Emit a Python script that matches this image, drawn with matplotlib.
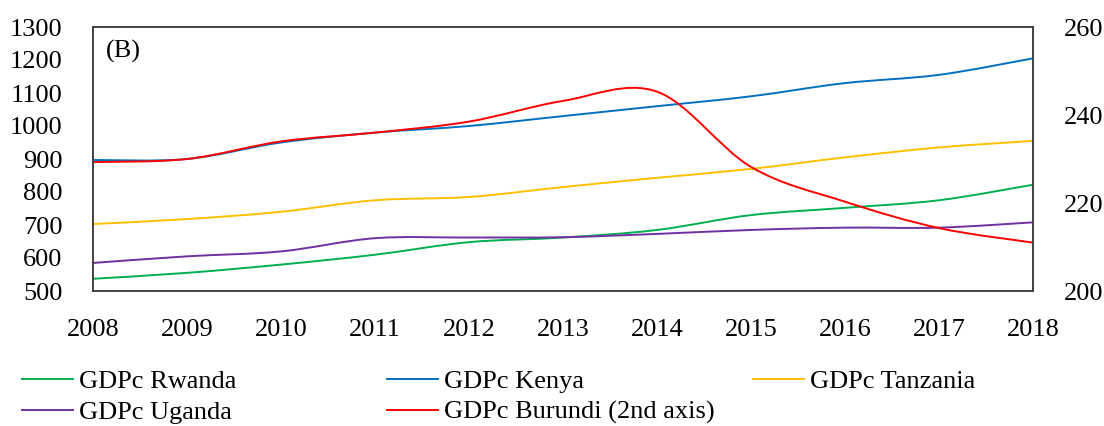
import numpy as np
import matplotlib
matplotlib.use("Agg")
import matplotlib.pyplot as plt
from matplotlib.path import Path
from matplotlib.patches import PathPatch
from matplotlib.lines import Line2D

plt.rcParams['font.family'] = ['Liberation Serif', 'DejaVu Serif']

# --- datos ---
years = [2008, 2009, 2010, 2011, 2012, 2013, 2014, 2015, 2016, 2017, 2018]
rwanda = [537, 555, 580, 610, 648, 662, 685, 730, 752, 775, 822]
kenya = [897, 900, 950, 980, 1000, 1030, 1060, 1090, 1130, 1155, 1205]
tanzania = [703, 718, 740, 775, 785, 815, 843, 870, 905, 935, 955]
uganda = [585, 605, 620, 660, 662, 663, 673, 685, 692, 692, 708]
burundi = [229.3, 230.0, 234.0, 236.0, 238.5, 243.2, 245.3, 228.2, 220.3, 214.3, 211.0]

series_left = [("GDPc Rwanda", rwanda, "#00B050"),
               ("GDPc Kenya", kenya, "#0070C0"),
               ("GDPc Tanzania", tanzania, "#FFC000"),
               ("GDPc Uganda", uganda, "#7030A0")]
series_right = ("GDPc Burundi (2nd axis)", burundi, "#FF0000")


# linea suavizada tipo Excel (bezier catmull-rom)
def smooth_path(x, y):
    p = np.column_stack([x, y]).astype(float)
    n = len(p)
    verts = [p[0]]
    codes = [Path.MOVETO]
    for i in range(n - 1):
        p0 = p[i - 1] if i > 0 else p[i]
        p3 = p[i + 2] if i + 2 < n else p[i + 1]
        c1 = p[i] + (p[i + 1] - p0) / 6
        c2 = p[i + 1] - (p3 - p[i]) / 6
        verts += [c1, c2, p[i + 1]]
        codes += [Path.CURVE4] * 3
    return Path(verts, codes)


W, H = 1104, 426
FS = 19
fig = plt.figure(figsize=(W / 100, H / 100), dpi=100)
ax = fig.add_axes([93 / W, (H - 291) / H, 940 / W, 264 / H])
ax2 = ax.twinx()

for name, vals, col in series_left:
    ax.add_patch(PathPatch(smooth_path(years, vals), fill=False, edgecolor=col, lw=1.4))
name, vals, col = series_right
ax2.add_patch(PathPatch(smooth_path(years, vals), fill=False, edgecolor=col, lw=1.4))

ax.set_xlim(2008, 2018)
ax.set_ylim(500, 1300)
ax2.set_ylim(200, 260)
ax.set_xticks(years)
ax.set_yticks(np.arange(500, 1301, 100))
ax2.set_yticks(np.arange(200, 261, 20))

ax.tick_params(axis='y', length=0, pad=22, labelsize=FS)
ax.tick_params(axis='x', length=0, pad=20.5, labelsize=FS)
ax2.tick_params(axis='y', length=0, pad=22, labelsize=FS)

for a in (ax, ax2):
    for s in a.spines.values():
        s.set_color("#404040")
        s.set_linewidth(1.2)

ax.text(0.014, 0.95, "(B)", transform=ax.transAxes, fontsize=FS, va='top', ha='left')

# leyenda: tres columnas separadas
cols_x = [22, 387, 753]
groups = [[series_left[0], series_left[3]], [series_left[1], series_right], [series_left[2]]]
for cx, grp in zip(cols_x, groups):
    handles = [Line2D([], [], color=c, lw=1.4) for _, _, c in grp]
    labels = [n for n, _, _ in grp]
    fig.legend(handles, labels, loc='upper left', bbox_to_anchor=(cx / W, 1 - 370 / H),
               frameon=False, fontsize=FS, handlelength=1.93, handletextpad=0.23,
               labelspacing=0.26, borderpad=0, borderaxespad=0)

fig.savefig("out.png", dpi=100)
